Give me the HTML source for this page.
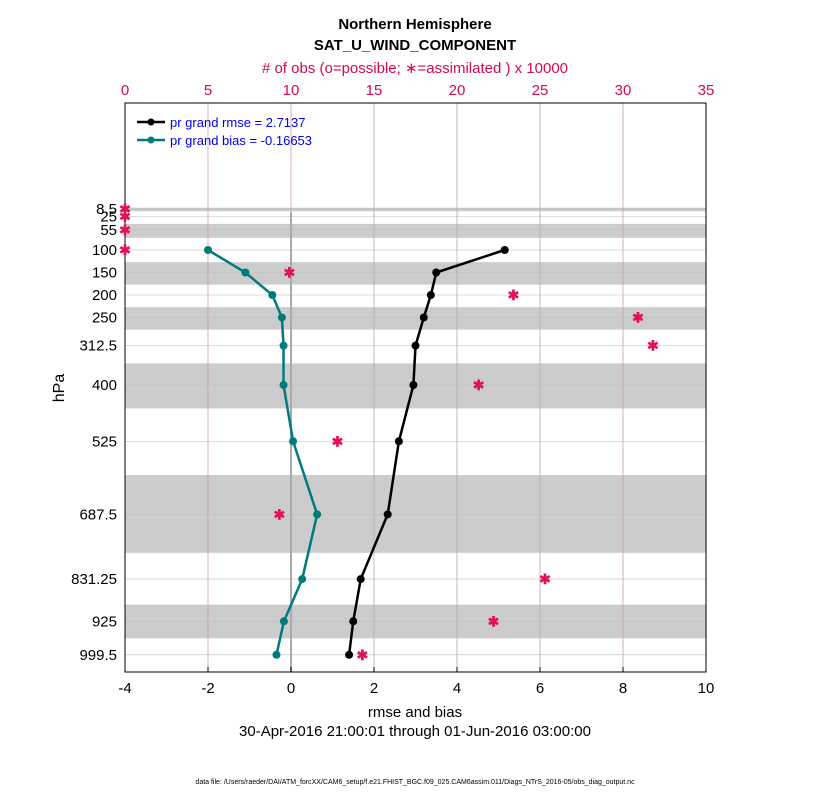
<!DOCTYPE html>
<html><head><meta charset="utf-8"><style>body{margin:0;background:#fff}svg{font-family:"Liberation Sans",sans-serif}</style></head>
<body>
<svg id="c" width="830" height="800" xmlns="http://www.w3.org/2000/svg">
<text x="415" y="29" font-size="15" font-weight="bold" text-anchor="middle">Northern Hemisphere</text>
<text x="415" y="50" font-size="15" font-weight="bold" text-anchor="middle">SAT_U_WIND_COMPONENT</text>
<text x="415" y="73" font-size="15" fill="#d6094f" text-anchor="middle"># of obs (o=possible; ∗=assimilated ) x 10000</text>
<text x="415" y="717" font-size="15" text-anchor="middle">rmse and bias</text>
<text x="415" y="736" font-size="15" text-anchor="middle">30-Apr-2016 21:00:01 through 01-Jun-2016 03:00:00</text>
<text x="64" y="388" font-size="16" text-anchor="middle" transform="rotate(-90 64 388)">hPa</text>
<text x="415" y="784" font-size="7" text-anchor="middle">data file: /Users/raeder/DAI/ATM_forcXX/CAM6_setup/f.e21.FHIST_BGC.f09_025.CAM6assim.011/Diags_NTrS_2016-05/obs_diag_output.nc</text>
<g id="plot"></g>
</svg>
<script>
const levels=[8.5,25,55,100,150,200,250,312.5,400,525,687.5,831.25,925,999.5];
const levelLabels=["8.5","25","55","100","150","200","250","312.5","400","525","687.5","831.25","925","999.5"];
const rmse=[null,null,null,5.15,3.5,3.37,3.2,3.0,2.95,2.6,2.33,1.68,1.5,1.4];
const bias=[null,null,null,-2.0,-1.1,-0.45,-0.22,-0.18,-0.18,0.05,0.63,0.27,-0.17,-0.35];
const obs=[0,0,0,0,9.9,23.4,30.9,31.8,21.3,12.8,9.3,25.3,22.2,14.3];
const bands=[[6,14],[42,73],[127,177],[227,277],[352,452],[600,773],[888,963]];
const xTicks=[-4,-2,0,2,4,6,8,10];
const topTicks=[0,5,10,15,20,25,30,35];
const L=125,R=706,T=103,B=672;
const X=v=>L+(v+4)/14*(R-L);
const XT=v=>L+v/35*(R-L);
const Y=p=>205+0.45*p;
const NS="http://www.w3.org/2000/svg";
const g=document.getElementById('plot');
function el(t,a,txt){const e=document.createElementNS(NS,t);for(const k in a)e.setAttribute(k,a[k]);if(txt!=null)e.textContent=txt;g.appendChild(e);return e;}
bands.forEach(b=>{const e=el('rect',{x:L,y:Y(b[0]),width:R-L,height:Y(b[1])-Y(b[0]),fill:'#cccccc'});

});
levels.forEach((p,i)=>{const e=el('line',{x1:L,x2:R,y1:Y(p),y2:Y(p),stroke:'#bbb','stroke-width':0.6});


const t=el('text',{x:L-8,y:Y(p)+5,'font-size':15,'text-anchor':'end'},levelLabels[i]);

});
topTicks.forEach(v=>{const e=el('line',{x1:XT(v),x2:XT(v),y1:T,y2:B,stroke:'#c8a0b0','stroke-width':0.8});


const t=el('text',{x:XT(v),y:95,'font-size':15,fill:'#d6094f','text-anchor':'middle'},String(v));

});
const z=el('line',{x1:X(0),x2:X(0),y1:212,y2:B,stroke:'#aaa','stroke-width':2});


const fr=el('rect',{x:L,y:T,width:R-L,height:B-T,fill:'none',stroke:'#000','stroke-width':1});


xTicks.forEach(v=>{const t=el('text',{x:X(v),y:693,'font-size':15,'text-anchor':'middle'},String(v));


el('line',{x1:X(v),x2:X(v),y1:B,y2:B-5,stroke:'#000'});});
function series(vals,color,name){let pts=[];vals.forEach((v,i)=>{if(v!=null)pts.push([X(v),Y(levels[i])]);});
const pl=el('polyline',{points:pts.map(p=>p.join(',')).join(' '),fill:'none',stroke:color,'stroke-width':2.5});


pts.forEach(p=>{const c=el('circle',{cx:p[0],cy:p[1],r:4,fill:color});

});}
series(rmse,'#000','rmse');
series(bias,'#007b7b','bias');
obs.forEach((v,i)=>{const t=el('text',{x:XT(v),y:Y(levels[i])+5,'font-size':14,fill:'#e0105a','text-anchor':'middle','font-weight':'bold'},'✱');

});
[['#000','pr grand rmse = 2.7137',122],['#007b7b','pr grand bias = -0.16653',140]].forEach(d=>{
const l=el('line',{x1:137,x2:165,y1:d[2],y2:d[2],stroke:d[0],'stroke-width':2.5});


el('circle',{cx:151,cy:d[2],r:3.5,fill:d[0]});
const t=el('text',{x:170,y:d[2]+5,'font-size':13,fill:'#0000ee'},d[1]);

});
</script>
</body></html>
